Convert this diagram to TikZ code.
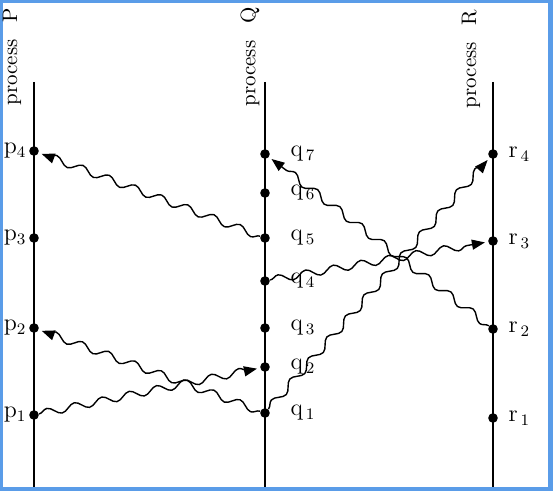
\documentclass[tikz,border=0pt]{standalone}
\usepackage{tikz}
\usepackage{xcolor}
\usetikzlibrary{positioning, arrows.meta, decorations.pathmorphing}
\definecolor{framex}{HTML}{5A9CE8}

\begin{document}
\begin{tikzpicture}[
  x=0.5pt, y=-0.5pt,
  font=\fontsize{10.5}{12}\selectfont,
  dot/.style={circle, fill=black, inner sep=0pt, minimum size=4.8pt},
  proc/.style={rotate=90, inner sep=0pt},
  lbl/.style={inner sep=0pt, font=\fontsize{12}{14}\selectfont},
  tline/.style={line width=1pt},
  msg/.style={-{Triangle[length=6.5pt, width=5pt]}, line width=0.7pt, shorten >=1.5pt,
    decorate, decoration={snake, amplitude=1.9pt, segment length=14pt, post length=4pt}},
]
\fill[framex] (0,0) rectangle (553,491);
\fill[white] (3,3) rectangle (548,487);
\useasboundingbox (0,0) rectangle (553,491);

% process names
\node[proc] (nP) at (12,57) {process\hspace{0.8em}P};
\node[proc] (nQ) at (250,57) {process\hspace{0.8em}Q};
\node[proc] (nR) at (471,59) {process\hspace{0.8em}R};

% time lines
\coordinate (Ptop) at (34,82);  \coordinate (Pbot) at (34,487);
\coordinate (Qtop) at (265,82); \coordinate (Qbot) at (265,487);
\coordinate (Rtop) at (493,82); \coordinate (Rbot) at (493,487);
\draw[tline] (Ptop) -- (Pbot);
\draw[tline] (Qtop) -- (Qbot);
\draw[tline] (Rtop) -- (Rbot);

% events of P
\node[dot] (p4) at (34,151) {};
\node[dot] (p3) at (34,238) {};
\node[dot] (p2) at (34,328) {};
\node[dot] (p1) at (34,415) {};
\node[lbl, left=1pt of p4] {p$_4$};
\node[lbl, left=1pt of p3] {p$_3$};
\node[lbl, left=1pt of p2] {p$_2$};
\node[lbl, left=1pt of p1] {p$_1$};

% events of Q
\node[dot] (q7) at (265,154) {};
\node[dot] (q6) at (265,193) {};
\node[dot] (q5) at (265,238) {};
\node[dot] (q4) at (265,281) {};
\node[dot] (q3) at (265,328) {};
\node[dot] (q2) at (265,367) {};
\node[dot] (q1) at (265,413) {};
\node[lbl, right=10pt of q7] {q$_{\,7}$};
\node[lbl, right=10pt of q6] {q$_{\,6}$};
\node[lbl, right=10pt of q5] {q$_{\,5}$};
\node[lbl, right=10pt of q4] {q$_{\,4}$};
\node[lbl, right=10pt of q3] {q$_{\,3}$};
\node[lbl, right=10pt of q2] {q$_{\,2}$};
\node[lbl, right=10pt of q1] {q$_{\,1}$};

% events of R
\node[dot] (r4) at (493,154) {};
\node[dot] (r3) at (493,241) {};
\node[dot] (r2) at (493,329) {};
\node[dot] (r1) at (493,418) {};
\node[lbl, right=5pt of r4] {r$_{\,4}$};
\node[lbl, right=5pt of r3] {r$_{\,3}$};
\node[lbl, right=5pt of r2] {r$_{\,2}$};
\node[lbl, right=5pt of r1] {r$_{\,1}$};

% messages
\draw[msg] (p1) -- (q2);
\draw[msg] (q1) -- (p2);
\draw[msg] (q5) -- (p4);
\draw[msg] (q1) -- (r4);
\draw[msg] (q4) -- (r3);
\draw[msg] (r2) -- (q7);
\end{tikzpicture}
\end{document}
